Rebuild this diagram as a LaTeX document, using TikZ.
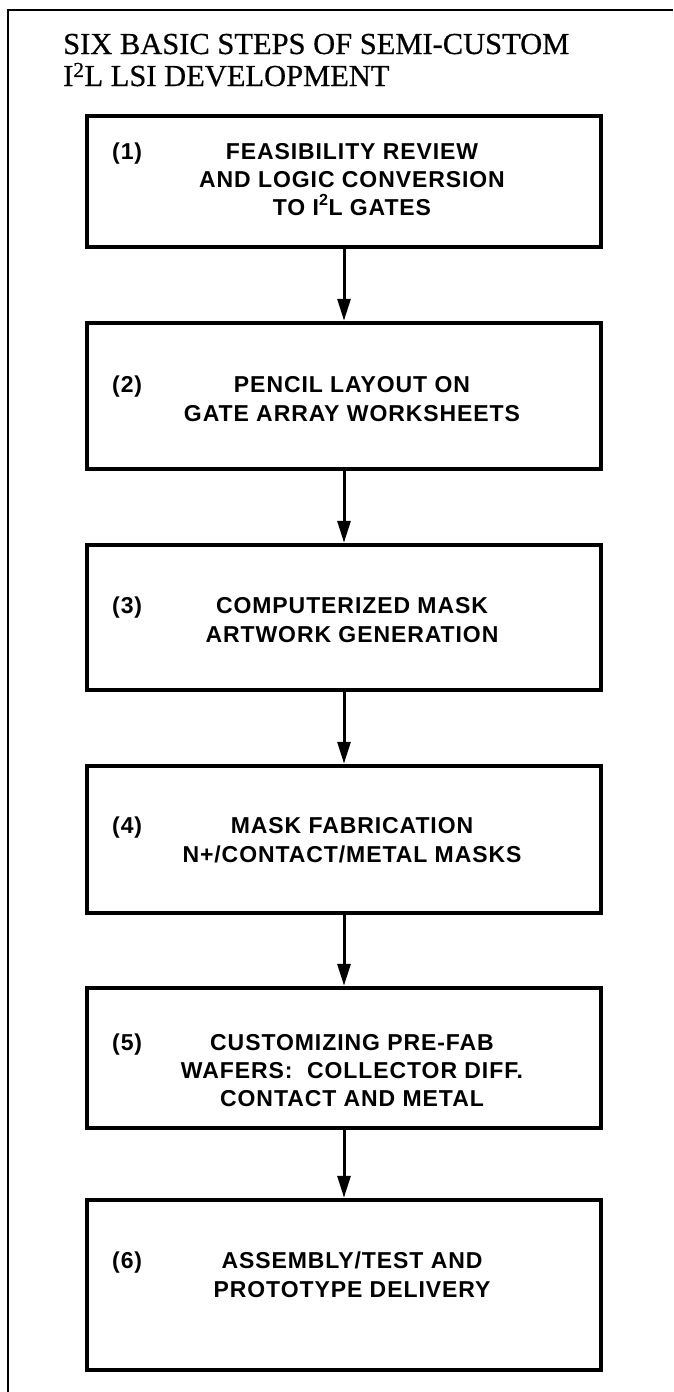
\documentclass[tikz,border=0pt]{standalone}
\usepackage{fontspec}
\setmainfont{Liberation Serif}
\newfontfamily\ttlfont[FakeBold=0.6]{Liberation Serif}
\newfontfamily\boxfont[LetterSpace=4]{Liberation Sans}
\usetikzlibrary{arrows.meta}
\begin{document}
\begin{tikzpicture}[x=1pt,y=-1pt,
  stepbox/.style={draw=black, line width=4.5pt, minimum width=514pt, inner sep=0pt},
  line/.style={anchor=base, inner sep=0pt, font=\boxfont\bfseries\fontsize{23}{27}\selectfont},
  num/.style={anchor=base west, inner sep=0pt, font=\boxfont\bfseries\fontsize{23}{27}\selectfont},
  ttl/.style={anchor=base west, inner sep=0pt, font=\ttlfont\fontsize{30.5}{34}\selectfont},
  arr/.style={line width=3pt, -{Triangle[length=22pt,width=13pt]}}]
\useasboundingbox (0,0) rectangle (673,1392);
% frame
\draw[line width=1.8pt] (8,1392) -- (8,10) -- (673,10);
% title
\node[ttl] (ttl1) at (63,54) {SIX BASIC STEPS OF SEMI-CUSTOM};
\node[ttl] (ttl2) at (63,86) {I\textsuperscript{2}L LSI DEVELOPMENT};
% boxes
\node[stepbox, minimum height=131pt] (b1) at (344,181.5) {};
\node[stepbox, minimum height=146pt] (b2) at (344,396) {};
\node[stepbox, minimum height=145pt] (b3) at (344,617.5) {};
\node[stepbox, minimum height=147pt] (b4) at (344,839.5) {};
\node[stepbox, minimum height=140pt] (b5) at (344,1058) {};
\node[stepbox, minimum height=170pt] (b6) at (344,1285) {};
% box 1
\node[num] (n1) at (112,159) {(1)};
\node[line] (t1a) at (352,159) {FEASIBILITY REVIEW};
\node[line] (t1b) at (352,187) {AND LOGIC CONVERSION};
\node[line] (t1c) at (352,215) {TO I\textsuperscript{2}L GATES};
% box 2
\node[num] (n2) at (112,392) {(2)};
\node[line] (t2a) at (352,392) {PENCIL LAYOUT ON};
\node[line] (t2b) at (352,421) {GATE ARRAY WORKSHEETS};
% box 3
\node[num] (n3) at (112,613) {(3)};
\node[line] (t3a) at (352,613) {COMPUTERIZED MASK};
\node[line] (t3b) at (352,642) {ARTWORK GENERATION};
% box 4
\node[num] (n4) at (112,833) {(4)};
\node[line] (t4a) at (352,833) {MASK FABRICATION};
\node[line] (t4b) at (352,862) {N+/CONTACT/METAL MASKS};
% box 5
\node[num] (n5) at (112,1050) {(5)};
\node[line] (t5a) at (352,1050) {CUSTOMIZING PRE-FAB};
\node[line] (t5b) at (352,1078) {WAFERS:\ \ COLLECTOR DIFF.};
\node[line] (t5c) at (352,1106) {CONTACT AND METAL};
% box 6
\node[num] (n6) at (112,1268) {(6)};
\node[line] (t6a) at (352,1268) {ASSEMBLY/TEST AND};
\node[line] (t6b) at (352,1297) {PROTOTYPE DELIVERY};
% arrows
\draw[arr] (b1.south) -- (b2.north);
\draw[arr] (b2.south) -- (b3.north);
\draw[arr] (b3.south) -- (b4.north);
\draw[arr] (b4.south) -- (b5.north);
\draw[arr] (b5.south) -- (b6.north);
\end{tikzpicture}
\end{document}
